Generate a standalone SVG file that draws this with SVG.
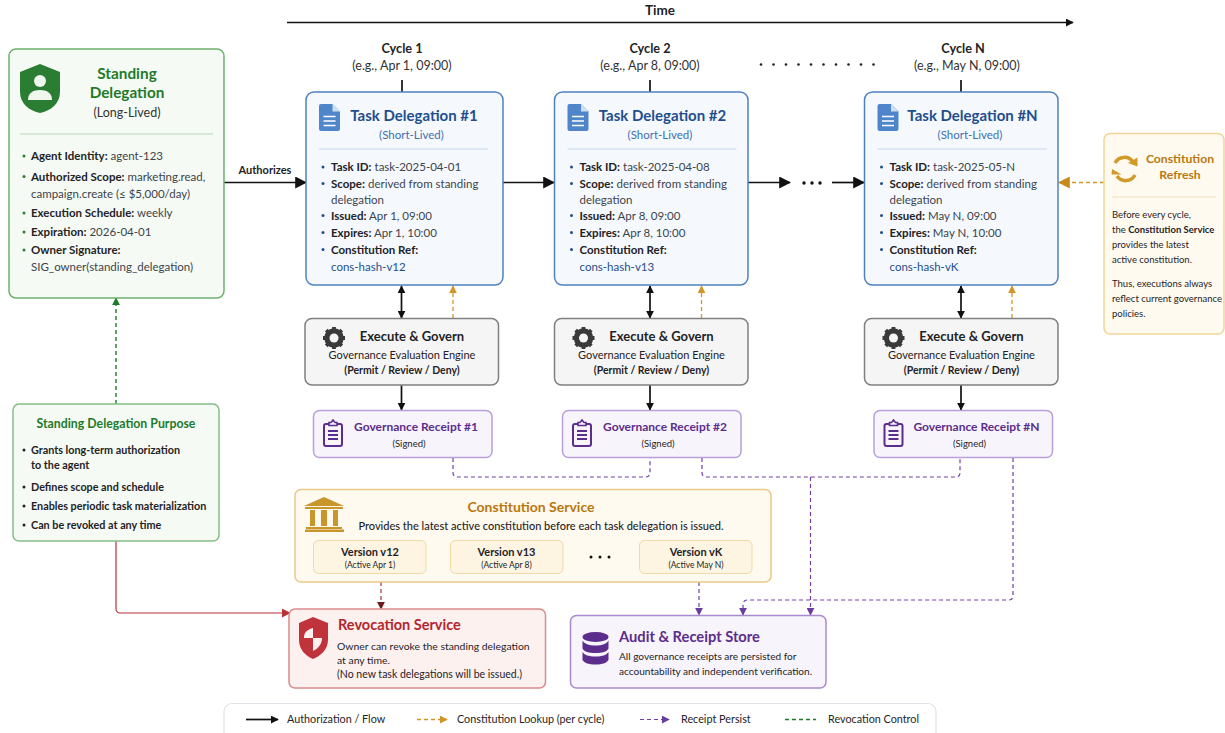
<svg xmlns="http://www.w3.org/2000/svg" width="1225" height="733" viewBox="0 0 1225 733">
<style>
text{font-family:Lato,"Liberation Sans",sans-serif;fill:#1f2326;font-size:11.5px}
.b{font-weight:700}
.m{text-anchor:middle}
.card{stroke-width:1.5}
.t{fill:#3c444c;font-size:11.5px}
.task{fill:#f5f9fe;stroke:#4f81bd}
.tt{fill:#1f4e8c;font-size:15px;font-weight:700}
.ts{fill:#3f6fb0;font-size:11.5px}
.hr{stroke-width:1}
.exec{fill:#f5f5f5;stroke:#808080}
.rc{fill:#f8f4fc;stroke:#b9a0d8}
.rt{fill:#5b2d8c;font-size:12px;font-weight:700}
.ver{fill:#fdf5e2;stroke:#efd9a4;stroke-width:1}
.ln{fill:none;stroke:#111;stroke-width:1.7}
.pu{fill:none;stroke:#7040a8;stroke-width:1.2;stroke-dasharray:4 3}
.or{fill:none;stroke:#d1962a;stroke-width:1.3;stroke-dasharray:4 3}
.gr{fill:none;stroke:#1f7a2a;stroke-width:1.4;stroke-dasharray:4 3}
.dot{fill:#1f4e8c}
</style>
<defs>
<marker id="ak" viewBox="0 0 10 10" refX="9" refY="5" markerWidth="8" markerHeight="8" markerUnits="userSpaceOnUse" orient="auto-start-reverse"><path d="M0 0L10 5L0 10z" fill="#111"/></marker>
<marker id="akb" viewBox="0 0 10 10" refX="9" refY="5" markerWidth="12" markerHeight="12" markerUnits="userSpaceOnUse" orient="auto-start-reverse"><path d="M0 0L10 5L0 10z" fill="#111"/></marker>
<marker id="ao" viewBox="0 0 10 10" refX="9" refY="5" markerWidth="8" markerHeight="8" markerUnits="userSpaceOnUse" orient="auto"><path d="M0 0L10 5L0 10z" fill="#d1962a"/></marker>
<marker id="aob" viewBox="0 0 10 10" refX="9" refY="5" markerWidth="12" markerHeight="12" markerUnits="userSpaceOnUse" orient="auto"><path d="M0 0L10 5L0 10z" fill="#c98a1c"/></marker>
<marker id="ap" viewBox="0 0 10 10" refX="9" refY="5" markerWidth="8" markerHeight="8" markerUnits="userSpaceOnUse" orient="auto"><path d="M0 0L10 5L0 10z" fill="#6a3ca0"/></marker>
<marker id="ag" viewBox="0 0 10 10" refX="9" refY="5" markerWidth="8" markerHeight="8" markerUnits="userSpaceOnUse" orient="auto"><path d="M0 0L10 5L0 10z" fill="#1f7a2a"/></marker>
<marker id="ar" viewBox="0 0 10 10" refX="9" refY="5" markerWidth="9" markerHeight="9" markerUnits="userSpaceOnUse" orient="auto"><path d="M0 0L10 5L0 10z" fill="#b8323a"/></marker>
<marker id="ad" viewBox="0 0 10 10" refX="9" refY="5" markerWidth="8" markerHeight="8" markerUnits="userSpaceOnUse" orient="auto"><path d="M0 0L10 5L0 10z" fill="#6b1a1a"/></marker>
<g id="doc"><path d="M2 0H13.500L21 7.500V25a2 2 0 0 1-2 2H2a2 2 0 0 1-2-2V2a2 2 0 0 1 2-2z" fill="#4f86c9"/><path d="M13.500 0L21 7.500H13.500z" fill="#cfe0f4"/><path d="M4.500 12.500H16.500M4.500 17H16.500M4.500 21.500H16.500" stroke="#fff" stroke-width="1.500"/></g>
<g id="gear"><circle cx="11" cy="11" r="7" fill="none" stroke="#3a3a3a" stroke-width="5.500"/><path d="M11 11V0M11 11V22M11 11H0M11 11H22M11 11L3.200 3.200M11 11L18.800 18.800M11 11L3.200 18.800M11 11L18.800 3.200" stroke="#3a3a3a" stroke-width="3.800"/><circle cx="11" cy="11" r="4.500" fill="#f5f5f5"/></g>
<g id="clip"><rect x="1" y="4" width="18" height="22" rx="2" fill="none" stroke="#5b2d8c" stroke-width="2"/><path d="M6 5.500V2.500H8L10 0L12 2.500H14V5.500z" fill="#f8f4fc" stroke="#5b2d8c" stroke-width="1.600"/><path d="M5 11H15M5 15H15M5 19H15" stroke="#5b2d8c" stroke-width="1.800"/></g>
</defs>

<g id="connectors">
<path class="ln" d="M287 22.500H1073" marker-end="url(#ak)"/>
<path class="ln" d="M402 80V92M650 80V92M961 80V92"/>
<path class="ln" d="M224 182.500H306" marker-end="url(#akb)"/>
<path class="ln" d="M503 182.500H554" marker-end="url(#akb)"/>
<path class="ln" d="M748 182.500H790" marker-end="url(#akb)"/>
<path class="ln" d="M832 182.500H864" marker-end="url(#akb)"/>
<path class="ln" d="M401.500 286V318" marker-start="url(#ak)" marker-end="url(#ak)"/>
<path class="ln" d="M650 286V318" marker-start="url(#ak)" marker-end="url(#ak)"/>
<path class="ln" d="M961 286V318" marker-start="url(#ak)" marker-end="url(#ak)"/>
<path class="ln" d="M401.500 385V410" marker-end="url(#ak)"/>
<path class="ln" d="M650 385V410" marker-end="url(#ak)"/>
<path class="ln" d="M961 385V410" marker-end="url(#ak)"/>
<path class="or" d="M453 318V286" marker-end="url(#ao)"/>
<path class="or" d="M701.500 318V286" marker-end="url(#ao)"/>
<path class="or" d="M1012 318V286" marker-end="url(#ao)"/>
<path class="or" d="M1104 182.500H1059" marker-end="url(#aob)"/>
<path class="gr" d="M116 404V298" marker-end="url(#ag)"/>
<path d="M116 541V609a4 4 0 0 0 4 4H290" fill="none" stroke="#b8323a" stroke-width="1.200" marker-end="url(#ar)"/>
<path d="M381 582V609" fill="none" stroke="#a33" stroke-width="1.200" stroke-dasharray="4 3" marker-end="url(#ad)"/>
<path class="pu" d="M453 458V473a4 4 0 0 0 4 4H646a4 4 0 0 0 4-4V458"/>
<path class="pu" d="M702 458V473a4 4 0 0 0 4 4H956a4 4 0 0 0 4-4V458"/>
<path class="pu" d="M810.500 477V615" marker-end="url(#ap)"/>
<path class="pu" d="M1013 458V596a4 4 0 0 1-4 4H747a4 4 0 0 0-4 4V615" marker-end="url(#ap)"/>
<path class="pu" d="M699 582V615" marker-end="url(#ap)"/>
</g>

<g id="time-header">
<text x="660" y="15" class="b m" style="font-size:13.500px">Time</text>
<text x="402" y="53" class="b m" style="font-size:12.700px">Cycle 1</text>
<text x="402" y="70" class="m" style="font-size:12.500px;fill:#333">(e.g., Apr 1, 09:00)</text>
<text x="650" y="53" class="b m" style="font-size:12.700px">Cycle 2</text>
<text x="650" y="70" class="m" style="font-size:12.500px;fill:#333">(e.g., Apr 8, 09:00)</text>
<text x="963" y="53" class="b m" style="font-size:12.700px">Cycle N</text>
<text x="967" y="70" class="m" style="font-size:12.500px;fill:#333">(e.g., May N, 09:00)</text>
<g fill="#222"><circle cx="761" cy="64.500" r="1.300"/><circle cx="773.500" cy="64.500" r="1.300"/><circle cx="786" cy="64.500" r="1.300"/><circle cx="798.500" cy="64.500" r="1.300"/><circle cx="811" cy="64.500" r="1.300"/><circle cx="823.500" cy="64.500" r="1.300"/><circle cx="836" cy="64.500" r="1.300"/><circle cx="848.500" cy="64.500" r="1.300"/><circle cx="861" cy="64.500" r="1.300"/><circle cx="873.500" cy="64.500" r="1.300"/></g>
<g fill="#111"><circle cx="804" cy="183" r="1.700"/><circle cx="812" cy="183" r="1.700"/><circle cx="820" cy="183" r="1.700"/></g>
<text x="265" y="174" class="b m" style="font-size:11px">Authorizes</text>
</g>

<g id="standing-delegation">
<rect x="9" y="49" width="215" height="249" rx="7" fill="#f5faf4" stroke="#6fb06f" class="card"/>
<path d="M40 64L60 72V92C60 104 50 111 40 113C30 111 20 104 20 92V72z" fill="#2a7d33"/>
<circle cx="40" cy="81" r="6" fill="#f0f7ef"/><path d="M28 100c0-7 5-10 12-10s12 3 12 10z" fill="#f0f7ef"/>
<text x="127" y="79" class="m b" style="font-size:15.300px;fill:#1f7a2a">Standing</text>
<text x="127" y="98" class="m b" style="font-size:15.300px;fill:#1f7a2a">Delegation</text>
<text x="127" y="117" class="m" style="font-size:12.500px;fill:#333">(Long-Lived)</text>
<path d="M20 134H213" stroke="#b7d8b4" class="hr"/>
<g fill="#2a7d33"><circle cx="24" cy="156" r="1.500"/><circle cx="24" cy="176.500" r="1.500"/><circle cx="24" cy="213" r="1.500"/><circle cx="24" cy="232" r="1.500"/><circle cx="24" cy="250" r="1.500"/></g>
<text x="31" y="160"><tspan class="b">Agent Identity:</tspan> <tspan class="t">agent-123</tspan></text>
<text x="31" y="180.500"><tspan class="b">Authorized Scope:</tspan> <tspan class="t">marketing.read,</tspan></text>
<text x="31" y="197.500" class="t">campaign.create (≤ $5,000/day)</text>
<text x="31" y="217"><tspan class="b">Execution Schedule:</tspan> <tspan class="t">weekly</tspan></text>
<text x="31" y="236"><tspan class="b">Expiration:</tspan> <tspan class="t">2026-04-01</tspan></text>
<text x="31" y="254" class="b">Owner Signature:</text>
<text x="31" y="270.500" class="t">SIG_owner(standing_delegation)</text>
</g>

<g id="standing-purpose">
<rect x="13" y="404" width="206" height="137" rx="6" fill="#f5faf4" stroke="#86bd86" class="card"/>
<text x="116" y="428" class="m b" style="font-size:12.300px;fill:#1f7a2a">Standing Delegation Purpose</text>
<g fill="#222"><circle cx="24" cy="450" r="1.500"/><circle cx="24" cy="487" r="1.500"/><circle cx="24" cy="506" r="1.500"/><circle cx="24" cy="525" r="1.500"/></g>
<g class="b"><text x="31" y="454" style="font-size:10.800px">Grants long-term authorization</text>
<text x="31" y="469" style="font-size:10.800px">to the agent</text>
<text x="31" y="491" style="font-size:10.800px">Defines scope and schedule</text>
<text x="31" y="510" style="font-size:10.800px">Enables periodic task materialization</text>
<text x="31" y="529" style="font-size:10.800px">Can be revoked at any time</text></g>
</g>

<g id="task-1">
<rect x="306" y="92" width="197" height="193" rx="8" class="task card"/>
<use href="#doc" x="319" y="104"/>
<text x="414" y="121" class="tt m">Task Delegation #1</text>
<text x="411.500" y="139" class="ts m">(Short-Lived)</text>
<path d="M319 149H488" stroke="#c5d6ec" class="hr"/>
<g class="dot"><circle cx="323" cy="167" r="1.500"/><circle cx="323" cy="183.500" r="1.500"/><circle cx="323" cy="215.500" r="1.500"/><circle cx="323" cy="232.500" r="1.500"/><circle cx="323" cy="249.500" r="1.500"/></g>
<text x="331" y="171"><tspan class="b">Task ID:</tspan> <tspan class="t">task-2025-04-01</tspan></text>
<text x="331" y="187.500"><tspan class="b">Scope:</tspan> <tspan class="t">derived from standing</tspan></text>
<text x="331" y="203.500" class="t">delegation</text>
<text x="331" y="219.500"><tspan class="b">Issued:</tspan> <tspan class="t">Apr 1, 09:00</tspan></text>
<text x="331" y="236.500"><tspan class="b">Expires:</tspan> <tspan class="t">Apr 1, 10:00</tspan></text>
<text x="331" y="253.500" class="b">Constitution Ref:</text>
<text x="331" y="270.500" style="fill:#1f4e8c">cons-hash-v12</text>
</g>
<g id="task-2" transform="translate(248.500 0)">
<rect x="306" y="92" width="193.500" height="193" rx="8" class="task card"/>
<use href="#doc" x="319" y="104"/>
<text x="414" y="121" class="tt m">Task Delegation #2</text>
<text x="411.500" y="139" class="ts m">(Short-Lived)</text>
<path d="M319 149H488" stroke="#c5d6ec" class="hr"/>
<g class="dot"><circle cx="323" cy="167" r="1.500"/><circle cx="323" cy="183.500" r="1.500"/><circle cx="323" cy="215.500" r="1.500"/><circle cx="323" cy="232.500" r="1.500"/><circle cx="323" cy="249.500" r="1.500"/></g>
<text x="331" y="171"><tspan class="b">Task ID:</tspan> <tspan class="t">task-2025-04-08</tspan></text>
<text x="331" y="187.500"><tspan class="b">Scope:</tspan> <tspan class="t">derived from standing</tspan></text>
<text x="331" y="203.500" class="t">delegation</text>
<text x="331" y="219.500"><tspan class="b">Issued:</tspan> <tspan class="t">Apr 8, 09:00</tspan></text>
<text x="331" y="236.500"><tspan class="b">Expires:</tspan> <tspan class="t">Apr 8, 10:00</tspan></text>
<text x="331" y="253.500" class="b">Constitution Ref:</text>
<text x="331" y="270.500" style="fill:#1f4e8c">cons-hash-v13</text>
</g>
<g id="task-n" transform="translate(558.500 0)">
<rect x="306" y="92" width="193.500" height="193" rx="8" class="task card"/>
<use href="#doc" x="319" y="104"/>
<text x="414" y="121" class="tt m">Task Delegation #N</text>
<text x="411.500" y="139" class="ts m">(Short-Lived)</text>
<path d="M319 149H488" stroke="#c5d6ec" class="hr"/>
<g class="dot"><circle cx="323" cy="167" r="1.500"/><circle cx="323" cy="183.500" r="1.500"/><circle cx="323" cy="215.500" r="1.500"/><circle cx="323" cy="232.500" r="1.500"/><circle cx="323" cy="249.500" r="1.500"/></g>
<text x="331" y="171"><tspan class="b">Task ID:</tspan> <tspan class="t">task-2025-05-N</tspan></text>
<text x="331" y="187.500"><tspan class="b">Scope:</tspan> <tspan class="t">derived from standing</tspan></text>
<text x="331" y="203.500" class="t">delegation</text>
<text x="331" y="219.500"><tspan class="b">Issued:</tspan> <tspan class="t">May N, 09:00</tspan></text>
<text x="331" y="236.500"><tspan class="b">Expires:</tspan> <tspan class="t">May N, 10:00</tspan></text>
<text x="331" y="253.500" class="b">Constitution Ref:</text>
<text x="331" y="270.500" style="fill:#1f4e8c">cons-hash-vK</text>
</g>

<g id="exec-1">
<rect x="305" y="318.500" width="193.500" height="66.500" rx="7" class="exec card"/>
<use href="#gear" x="323" y="327"/>
<text x="412" y="341" class="m b" style="font-size:13px">Execute &amp; Govern</text>
<text x="402" y="359" class="m" style="font-size:11px">Governance Evaluation Engine</text>
<text x="402" y="374" class="m b" style="font-size:10.500px">(Permit / Review / Deny)</text>
</g>
<g id="exec-2" transform="translate(249.500 0)">
<rect x="305" y="318.500" width="193.500" height="66.500" rx="7" class="exec card"/>
<use href="#gear" x="323" y="327"/>
<text x="412" y="341" class="m b" style="font-size:13px">Execute &amp; Govern</text>
<text x="402" y="359" class="m" style="font-size:11px">Governance Evaluation Engine</text>
<text x="402" y="374" class="m b" style="font-size:10.500px">(Permit / Review / Deny)</text>
</g>
<g id="exec-n" transform="translate(559.500 0)">
<rect x="305" y="318.500" width="193.500" height="66.500" rx="7" class="exec card"/>
<use href="#gear" x="323" y="327"/>
<text x="412" y="341" class="m b" style="font-size:13px">Execute &amp; Govern</text>
<text x="402" y="359" class="m" style="font-size:11px">Governance Evaluation Engine</text>
<text x="402" y="374" class="m b" style="font-size:10.500px">(Permit / Review / Deny)</text>
</g>

<g id="receipt-1">
<rect x="313.500" y="410.500" width="178.500" height="47" rx="6" class="rc card"/>
<use href="#clip" x="323" y="420"/>
<text x="416" y="431" class="m rt">Governance Receipt #1</text>
<text x="409" y="447" class="m" style="font-size:9.500px">(Signed)</text>
</g>
<g id="receipt-2" transform="translate(249 0)">
<rect x="313.500" y="410.500" width="178.500" height="47" rx="6" class="rc card"/>
<use href="#clip" x="323" y="420"/>
<text x="416" y="431" class="m rt">Governance Receipt #2</text>
<text x="409" y="447" class="m" style="font-size:9.500px">(Signed)</text>
</g>
<g id="receipt-n" transform="translate(560.500 0)">
<rect x="313.500" y="410.500" width="178.500" height="47" rx="6" class="rc card"/>
<use href="#clip" x="323" y="420"/>
<text x="416" y="431" class="m rt">Governance Receipt #N</text>
<text x="409" y="447" class="m" style="font-size:9.500px">(Signed)</text>
</g>

<g id="constitution-service">
<rect x="295" y="489.500" width="476" height="92.500" rx="6" fill="#fffaf0" stroke="#ecc987" class="card"/>
<g fill="#c9962b"><path d="M324 497L344 506H304z"/><rect x="305" y="507" width="38" height="2"/><rect x="310" y="510" width="5" height="16"/><rect x="321" y="510" width="6" height="16"/><rect x="333" y="510" width="5" height="16"/><rect x="306" y="527" width="36" height="2"/><rect x="305" y="529.500" width="39" height="2.500"/></g>
<text x="531" y="512" class="m b" style="font-size:14px;fill:#b9780f">Constitution Service</text>
<text x="541" y="530" class="m" style="font-size:11px;font-weight:500">Provides the latest active constitution before each task delegation is issued.</text>
<rect x="313.500" y="540.500" width="112.500" height="33" rx="5" class="ver"/>
<text x="370" y="556" class="m b" style="font-size:11px">Version v12</text>
<text x="370" y="568" class="m" style="font-size:8.500px">(Active Apr 1)</text>
<rect x="450.500" y="540.500" width="112.500" height="33" rx="5" class="ver"/>
<text x="506.500" y="556" class="m b" style="font-size:11px">Version v13</text>
<text x="506.500" y="568" class="m" style="font-size:8.500px">(Active Apr 8)</text>
<g fill="#111"><circle cx="591" cy="557" r="1.500"/><circle cx="600" cy="557" r="1.500"/><circle cx="609" cy="557" r="1.500"/></g>
<rect x="639.500" y="540.500" width="112.500" height="33" rx="5" class="ver"/>
<text x="696" y="556" class="m b" style="font-size:11px">Version vK</text>
<text x="696" y="568" class="m" style="font-size:8.500px">(Active May N)</text>
</g>

<g id="revocation-service">
<rect x="289" y="609" width="256.500" height="79" rx="6" fill="#fdf1f0" stroke="#d98a8a" class="card"/>
<path d="M313 617L328 623V640C328 650 320 656 313 659C306 656 299 650 299 640V623z" fill="#c0333a"/>
<path d="M313 628V638H304C304 633 306 630 313 628zM313 638H322C322 644 318 649 313 651z" fill="#fdf1f0"/>
<text x="338" y="630" class="b" style="font-size:14.500px;fill:#b3262d">Revocation Service</text>
<text x="337" y="649.500" style="font-size:10.400px">Owner can revoke the standing delegation</text>
<text x="337" y="663.500" style="font-size:10.400px">at any time.</text>
<text x="337" y="678" style="font-size:10.500px">(No new task delegations will be issued.)</text>
</g>

<g id="audit-store">
<rect x="570.500" y="615.500" width="255.500" height="72.500" rx="6" fill="#f8f4fc" stroke="#a98ad0" class="card"/>
<g fill="#5b2d8c"><ellipse cx="595.500" cy="637" rx="13" ry="5"/><path d="M582.500 640.500c2 3.500 6 5 13 5s11-1.500 13-5v8c-2 3.500-6 4.500-13 4.500s-11-1-13-4.500z"/><path d="M582.500 652c2 3 6 4.500 13 4.500s11-1.500 13-4.500v8c-2 3-6 4.500-13 4.500s-11-1.500-13-4.500z"/></g>
<text x="619" y="642" class="b" style="font-size:14.700px;fill:#5b2d8c">Audit &amp; Receipt Store</text>
<text x="619" y="660" style="font-size:10.100px">All governance receipts are persisted for</text>
<text x="619" y="675" style="font-size:10.100px">accountability and independent verification.</text>
</g>

<g id="constitution-refresh">
<rect x="1104" y="133.500" width="120" height="200.500" rx="6" fill="#fffaf0" stroke="#f0d596" class="card"/>
<g fill="none" stroke="#d19a28" stroke-width="3.500"><path d="M1115 163a10.500 10.500 0 0 1 18-1"/><path d="M1135 175a10.500 10.500 0 0 1-18 1"/></g>
<path d="M1128 163l9.500 3.500v-9z" fill="#d19a28"/><path d="M1112 169l9.500 5.500h-10z" fill="#d19a28"/>
<text x="1180" y="163" class="m b" style="font-size:12.200px;fill:#b9780f">Constitution</text>
<text x="1180" y="179" class="m b" style="font-size:12.200px;fill:#b9780f">Refresh</text>
<path d="M1112 197H1216" stroke="#f0dfb8" class="hr"/>
<text x="1112" y="218" style="font-size:9.500px">Before every cycle,</text>
<text x="1112" y="233" style="font-size:9.500px">the <tspan class="b" style="font-size:9.500px">Constitution Service</tspan></text>
<text x="1112" y="248" style="font-size:9.500px">provides the latest</text>
<text x="1112" y="263" style="font-size:9.500px">active constitution.</text>
<text x="1112" y="287" style="font-size:9.500px">Thus, executions always</text>
<text x="1112" y="302" style="font-size:9.500px">reflect current governance</text>
<text x="1112" y="317" style="font-size:9.500px">policies.</text>
</g>

<g id="legend">
<rect x="224" y="703.500" width="712" height="40" rx="8" fill="#fff" stroke="#dfe2e6" stroke-width="1.200"/>
<path class="ln" d="M246 719.500H278" marker-end="url(#ak)"/>
<text x="287" y="723" style="font-size:10.800px">Authorization / Flow</text>
<path class="or" d="M417 719.500H447" marker-end="url(#ao)"/>
<text x="457" y="723" style="font-size:10.800px">Constitution Lookup (per cycle)</text>
<path class="pu" d="M640 719.500H669" marker-end="url(#ap)"/>
<text x="681" y="723" style="font-size:10.800px">Receipt Persist</text>
<path class="gr" d="M785 719.500H816"/>
<text x="828" y="723" style="font-size:10.800px">Revocation Control</text>
</g>
</svg>
